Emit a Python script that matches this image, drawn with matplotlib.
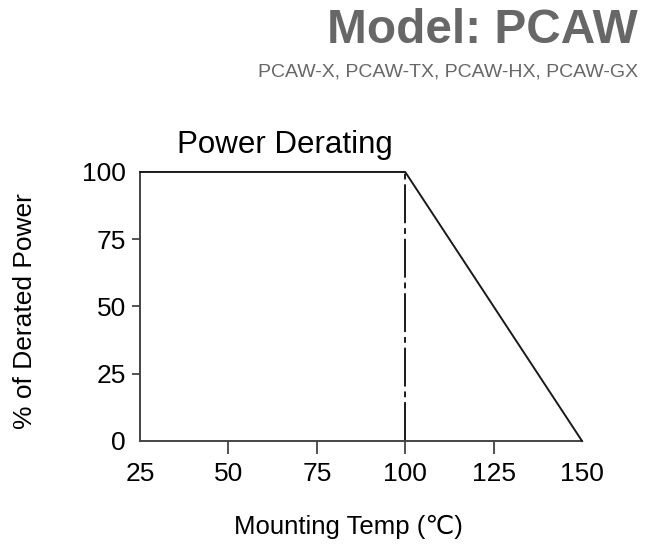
import matplotlib.pyplot as plt

plt.rcParams['font.family'] = ['Liberation Sans', 'DejaVu Sans']

# derating curve
temp = [25, 100, 150]
power = [100, 100, 0]
xticks = [25, 50, 75, 100, 125, 150]
yticks = [0, 25, 50, 75, 100]
knee = 100

fig = plt.figure(figsize=(6.57, 5.47), dpi=100)
ax = fig.add_axes([0.2131, 0.1938, 0.6728, 0.4918])

ax.plot(temp, power, color='#1a1a1a', lw=1.4, clip_on=False, zorder=3)
ax.plot([knee, knee], [0, 100], color='#1a1a1a', lw=1.4,
        linestyle=(0, (20, 2.5, 3, 2.5)), clip_on=False)

ax.set_xlim(25, 150)
ax.set_ylim(0, 100)
ax.set_xticks(xticks)
ax.set_yticks(yticks)
ax.tick_params(labelsize=19, width=1.3, color='#444444')
ax.tick_params(axis='x', length=9, pad=6)
ax.tick_params(axis='y', length=6, pad=4)
# no tick marks at the corners
for t in [ax.xaxis.get_major_ticks()[0], ax.xaxis.get_major_ticks()[-1],
          ax.yaxis.get_major_ticks()[0], ax.yaxis.get_major_ticks()[-1]]:
    t.tick1line.set_visible(False)
for s in ['top', 'right']:
    ax.spines[s].set_visible(False)
for s in ['left', 'bottom']:
    ax.spines[s].set_color('#444444')
    ax.spines[s].set_linewidth(1.4)

fig.text(0.038, 0.431, '% of Derated Power', fontsize=19, rotation=90,
         ha='center', va='center')
fig.text(0.530, 0.037, 'Mounting Temp (℃)', fontsize=18.5, ha='center', va='center')

fig.text(0.433, 0.720, 'Power Derating', fontsize=22.5, ha='center', va='baseline')
fig.text(0.971, 0.921, 'Model: PCAW', fontsize=34.4, fontweight='bold',
         color='#676767', ha='right', va='baseline')
fig.text(0.971, 0.861, 'PCAW-X, PCAW-TX, PCAW-HX, PCAW-GX', fontsize=14,
         color='#676767', ha='right', va='baseline')

fig.savefig('out.png', dpi=100)
